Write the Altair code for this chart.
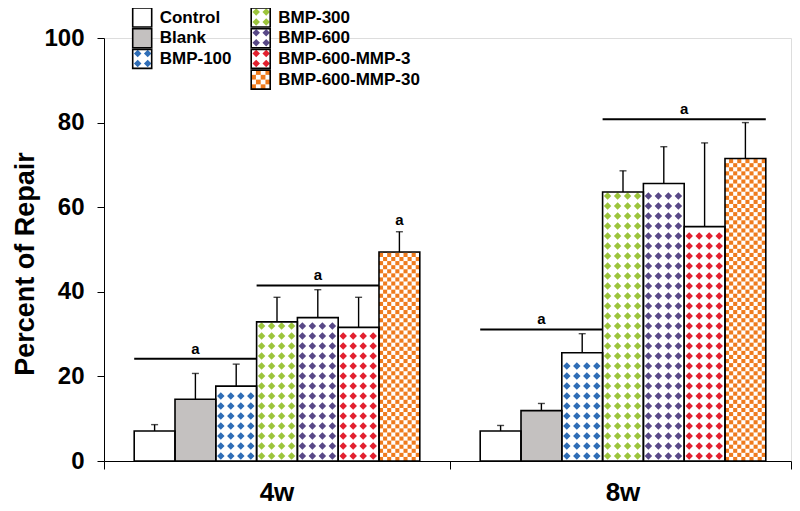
import math
import altair as alt
import pandas as pd

# ---------------- data ----------------
groups = ["4w", "8w"]
series = ["Control", "Blank", "BMP-100", "BMP-300", "BMP-600",
          "BMP-600-MMP-3", "BMP-600-MMP-30"]
mean_4w = [7.1, 14.6, 17.7, 32.9, 33.9, 31.6, 49.4]
sd_4w = [1.5, 6.1, 5.2, 5.8, 6.6, 7.1, 4.8]
mean_8w = [7.1, 11.9, 25.6, 63.6, 65.6, 55.4, 71.5]
sd_8w = [1.3, 1.7, 4.5, 5.0, 8.7, 19.8, 8.5]

sig_group = ["4w", "4w", "4w", "8w", "8w"]
sig_from = ["Control", "BMP-300", "BMP-600-MMP-30", "Control", "BMP-300"]
sig_to = ["BMP-100", "BMP-600-MMP-3", "BMP-600-MMP-30", "BMP-100", "BMP-600-MMP-30"]
sig_level = [24.2, 41.5, 54.6, 31.1, 80.8]
sig_line = [True, True, False, True, True]
sig_text = ["a", "a", "a", "a", "a"]

y_ticks = [0, 20, 40, 60, 80, 100]

# ---------------- style ----------------
base_fill = ["#ffffff", "#c4c1c0", "#ffffff", "#ffffff", "#ffffff", "#ffffff", "#ffffff"]
pattern_color = ["#ffffff", "#c4c1c0", "#2f6db6", "#9cc43c", "#584887", "#e2202f", "#ef7b1d"]
pattern_kind = [None, None, "diamond", "diamond", "diamond", "diamond", "checker"]

FONT = "Liberation Sans"
W, H = 687, 423                 # plot area
PX_PER_X = 346.0                # px per group
X_MAX = W / PX_PER_X            # x domain end (just under 2 groups)
PX_PER_Y = H / 100.0
BAR_PX = 40.8
ORIGIN_X, ORIGIN_Y = 104, 38    # page position of plot's top-left
LEG_X = [142.2, 260.7]          # legend swatch centres (page px)
LEG_Y0, LEG_DY = 17.5, 20.7
SW = 19.0


def xd(px):
    return px / PX_PER_X


def yd(py):
    return py / PX_PER_Y


def bar_center(gi, k):
    return gi + 0.5 + (k - 3) * xd(BAR_PX)


# ---------------- build tables ----------------
rects = []
for gi, g in enumerate(groups):
    means = [mean_4w, mean_8w][gi]
    sds = [sd_4w, sd_8w][gi]
    for k, s in enumerate(series):
        cx = bar_center(gi, k)
        rects.append(dict(kind="bar", series=s, k=k,
                          x0=cx - xd(BAR_PX) / 2, x1=cx + xd(BAR_PX) / 2,
                          y0=0.0, y1=means[k], xc=cx, top=means[k] + sds[k],
                          fill=base_fill[k]))

legend_txt = []
for k, s in enumerate(series):
    col = 0 if k < 3 else 1
    row = k if k < 3 else k - 3
    cxp = LEG_X[col] - ORIGIN_X
    cyp = (ORIGIN_Y + H) - (LEG_Y0 + row * LEG_DY)
    rects.append(dict(kind="legend", series=s, k=k,
                      x0=xd(cxp - SW / 2), x1=xd(cxp + SW / 2),
                      y0=yd(cyp - SW / 2), y1=yd(cyp + SW / 2),
                      xc=xd(cxp), top=yd(cyp), fill=base_fill[k]))
    legend_txt.append(dict(label=s, x=xd(cxp + SW / 2 + 8), y=yd(cyp)))

rect_df = pd.DataFrame(rects)
bars_df = rect_df[rect_df.kind == "bar"]
legend_df = pd.DataFrame(legend_txt)

# patterns (derived from the rectangles above)
diamonds, checks = [], []
for r in rects:
    kind = pattern_kind[r["k"]]
    if kind is None:
        continue
    L = r["x0"] * PX_PER_X
    B = r["y0"] * PX_PER_Y
    w = (r["x1"] - r["x0"]) * PX_PER_X
    h = (r["y1"] - r["y0"]) * PX_PER_Y
    col = pattern_color[r["k"]]
    if kind == "diamond":
        cx = 5.0
        while cx <= w - 3.5:
            cy = 5.0
            while cy + 3.5 <= h:
                diamonds.append(dict(x=xd(L + cx), y=yd(B + cy), c=col))
                cy += 10.0
            cx += 10.0
    else:
        n = max(1, math.floor(w / 4.0))
        cell = w / n
        j = 0
        while j * cell < h - 0.3:
            for i in range(n):
                if (i + j) % 2 == 0:
                    checks.append(dict(x0=xd(L + i * cell), x1=xd(L + (i + 1) * cell),
                                       y0=yd(B + j * cell), y1=yd(B + min((j + 1) * cell, h)),
                                       c=col))
            j += 1
diam_df = pd.DataFrame(diamonds)
check_df = pd.DataFrame(checks)

sig_rows = []
for i in range(len(sig_group)):
    gi = groups.index(sig_group[i])
    a = series.index(sig_from[i])
    b = series.index(sig_to[i])
    x0 = bar_center(gi, a) - xd(BAR_PX) / 2
    x1 = bar_center(gi, b) + xd(BAR_PX) / 2
    sig_rows.append(dict(x0=x0, x1=x1, xm=(x0 + x1) / 2, level=sig_level[i],
                         line=sig_line[i], text=sig_text[i]))
sig_df = pd.DataFrame(sig_rows)
group_df = pd.DataFrame(dict(group=groups, gc=[i + 0.5 for i in range(len(groups))]))

# ---------------- scales / axes ----------------
x_scale = alt.Scale(domain=[0, X_MAX], nice=False, zero=False)
y_scale = alt.Scale(domain=[0, 100], nice=False, zero=False)
x_axis = alt.Axis(values=[0, 1, X_MAX], labels=False, title=None, tickSize=8,
                  tickColor="black", domainColor="black", grid=False)
y_axis = alt.Axis(values=y_ticks, title="Percent of Repair", titleFontSize=27,
                  titleFontWeight="bold", titleColor="black", titleFont=FONT,
                  titleX=-79, titleY=H / 2 + 14, titleAlign="center", titleBaseline="middle",
                  labelFontSize=24, labelFontWeight="bold", labelColor="black",
                  labelFont=FONT, labelPadding=13, tickSize=7, tickColor="black",
                  domainColor="black", grid=False)


def X(f):
    return alt.X(f, type="quantitative", scale=x_scale, axis=x_axis)


def Y(f):
    return alt.Y(f, type="quantitative", scale=y_scale, axis=y_axis)


fill_layer = alt.Chart(rect_df).mark_rect(strokeWidth=0).encode(
    x=X("x0"), x2="x1", y=Y("y0"), y2="y1",
    fill=alt.Fill("fill:N", scale=None))

diam_layer = alt.Chart(diam_df).mark_point(shape="diamond", filled=True, size=56,
                                           opacity=1, strokeWidth=0).encode(
    x=X("x"), y=Y("y"), fill=alt.Fill("c:N", scale=None))

check_layer = alt.Chart(check_df).mark_rect(strokeWidth=0).encode(
    x=X("x0"), x2="x1", y=Y("y0"), y2="y1", fill=alt.Fill("c:N", scale=None))

outline_layer = alt.Chart(rect_df).mark_rect(fillOpacity=0, stroke="black",
                                             strokeWidth=1.6).encode(
    x=X("x0"), x2="x1", y=Y("y0"), y2="y1")

err_layer = alt.Chart(bars_df).mark_rule(color="black", strokeWidth=1.4).encode(
    x=X("xc"), y=Y("y1"), y2="top")

cap_layer = alt.Chart(bars_df).mark_tick(orient="horizontal", size=7, thickness=1.4,
                                         color="black").encode(
    x=X("xc"), y=Y("top"))

sig_line_layer = alt.Chart(sig_df).transform_filter("datum.line").mark_rule(
    color="black", strokeWidth=2).encode(x=X("x0"), x2="x1", y=Y("level"))

sig_text_layer = alt.Chart(sig_df).mark_text(
    font=FONT, fontSize=15, fontWeight="bold", color="black",
    baseline="bottom", dy=-2).encode(x=X("xm"), y=Y("level"), text="text:N")

group_layer = alt.Chart(group_df).mark_text(
    font=FONT, fontSize=26, fontWeight="bold", color="black", baseline="middle").encode(
    x=X("gc"), y=alt.value(H + 32), text="group:N")

legend_layer = alt.Chart(legend_df).mark_text(
    font=FONT, fontSize=17, fontWeight="bold", color="black",
    align="left", baseline="middle").encode(x=X("x"), y=Y("y"), text="label:N")

chart = alt.layer(
    fill_layer, diam_layer, check_layer, outline_layer, err_layer, cap_layer,
    sig_line_layer, sig_text_layer, group_layer, legend_layer
).properties(
    width=W, height=H,
    autosize=alt.AutoSizeParams(type="none"),
    padding={"left": 96, "top": 30, "right": 1, "bottom": 48},
).configure_view(stroke=None).configure(font=FONT, background="white")

chart.save("out.html", embed_options={"renderer": "svg", "actions": False})
